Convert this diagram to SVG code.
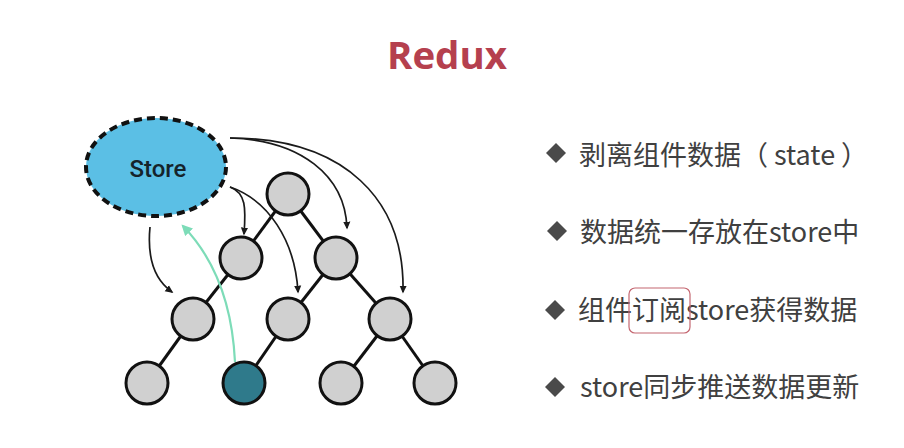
<svg xmlns="http://www.w3.org/2000/svg" width="904" height="448" viewBox="0 0 904 448">
<defs>
<marker id="ah" viewBox="0 0 10 10" refX="8" refY="5" markerWidth="8" markerHeight="8" orient="auto" markerUnits="userSpaceOnUse">
<path d="M0,0.5 L10,5 L0,9.5 Z" fill="#1a1a1a"/>
</marker>
<marker id="ahg" viewBox="0 0 10 10" refX="8" refY="5" markerWidth="11" markerHeight="11" orient="auto" markerUnits="userSpaceOnUse">
<path d="M0,0 L10,5 L0,10 Z" fill="#7ddcb8"/>
</marker>
<style>
.edge{stroke:#111;stroke-width:3;fill:none}
.node{fill:#d0d0d0;stroke:#111;stroke-width:3}
.dark{fill:#2f7a8b;stroke:#111;stroke-width:3}
.arr{stroke:#1a1a1a;stroke-width:1.7;fill:none;marker-end:url(#ah)}
.txt{font-family:"Noto Sans CJK SC","Noto Sans",sans-serif;font-size:27px;fill:#404040}
.bul{fill:#4a4a4a}
</style>
</defs>
<rect width="904" height="448" fill="#ffffff"/>
<text x="447" y="69" text-anchor="middle" font-family="'Open Sans','Liberation Sans',sans-serif" font-weight="700" font-size="37" fill="#b5404e" textLength="120" lengthAdjust="spacingAndGlyphs">Redux</text>

<g id="tree-edges" class="edges">
<line class="edge" x1="288" y1="194" x2="241" y2="258"/>
<line class="edge" x1="288" y1="194" x2="336" y2="258"/>
<line class="edge" x1="241" y1="258" x2="193" y2="319"/>
<line class="edge" x1="336" y1="258" x2="288" y2="319"/>
<line class="edge" x1="336" y1="258" x2="390" y2="319"/>
<line class="edge" x1="193" y1="319" x2="147" y2="383"/>
<line class="edge" x1="288" y1="319" x2="244" y2="383"/>
<line class="edge" x1="390" y1="319" x2="341" y2="383"/>
<line class="edge" x1="390" y1="319" x2="435" y2="383"/>
</g>

<g id="n-root"><circle class="node" cx="288" cy="194" r="21"/></g>
<g id="n-l1a"><circle class="node" cx="241" cy="258" r="21"/></g>
<g id="n-l1b"><circle class="node" cx="336" cy="258" r="21"/></g>
<g id="n-l2a"><circle class="node" cx="193" cy="319" r="21"/></g>
<g id="n-l2b"><circle class="node" cx="288" cy="319" r="21"/></g>
<g id="n-l2c"><circle class="node" cx="390" cy="319" r="21"/></g>
<g id="n-l3a"><circle class="node" cx="147" cy="383" r="21"/></g>
<g id="n-l3b"><circle class="dark" cx="244" cy="383" r="21"/></g>
<g id="n-l3c"><circle class="node" cx="341" cy="383" r="21"/></g>
<g id="n-l3d"><circle class="node" cx="435" cy="383" r="21"/></g>

<g id="store">
<ellipse cx="156" cy="167" rx="70" ry="49" fill="#5bbfe5" stroke="#111" stroke-width="4" stroke-dasharray="8 5"/>
<text x="158" y="177" text-anchor="middle" font-family="Roboto,'Liberation Sans',sans-serif" font-weight="500" font-size="24" fill="#15232b">Store</text>
</g>

<g id="connectors">
<path class="arr" d="M150,227 C147,258 155,280 172,292"/>
<path class="arr" d="M230,187 C246,193 246,208 244,234"/>
<path class="arr" d="M230,187 C268,200 295,240 298,292"/>
<path class="arr" d="M230,138 C300,140 345,175 347,228"/>
<path class="arr" d="M230,138 C345,138 405,200 403,292"/>
<path d="M235,362 C232,300 212,256 183,226" fill="none" stroke="#7ddcb8" stroke-width="2.2" marker-end="url(#ahg)"/>
</g>

<g id="bullets">
<g id="b1"><path class="bul" d="M556,143 L566,153 L556,163 L546,153 Z"/><text class="txt" x="579" y="165">剥离组件数据（<tspan dx="6">state</tspan><tspan dx="6">）</tspan></text></g>
<g id="b2"><path class="bul" d="M557,221 L567,231 L557,241 L547,231 Z"/><text class="txt" x="580" y="242">数据统一存放在store中</text></g>
<g id="b3"><path class="bul" d="M555,300 L565,310 L555,320 L545,310 Z"/><text class="txt" x="578" y="320">组件订阅store获得数据</text>
<rect x="629" y="288" width="61" height="45" rx="6" fill="none" stroke="#c46670" stroke-width="1.2"/></g>
<g id="b4"><path class="bul" d="M555,377 L565,387 L555,397 L545,387 Z"/><text class="txt" x="580" y="397">store同步推送数据更新</text></g>
</g>
</svg>
